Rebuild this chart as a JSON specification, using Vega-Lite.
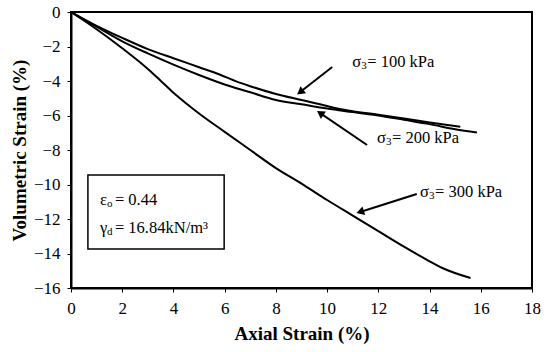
{
  "$schema": "https://vega.github.io/schema/vega-lite/v6.json",
  "width": 461,
  "height": 276,
  "autosize": "none",
  "padding": {"left": 71, "top": 12, "right": 15, "bottom": 64},
  "background": "white",
  "config": {
    "view": {"stroke": "black", "strokeWidth": 2},
    "font": "Liberation Serif",
    "axis": {"labelOverlap": false, "labelBound": false, "labelFlush": false},
    "axisY": {"labelOverlap": false, "tickCount": 9},
    "axisQuantitative": {"labelOverlap": false}
  },
  "datasets": {
    "curves": [
      {"series": "100 kPa", "x": 0, "y": 0},
      {"series": "100 kPa", "x": 1, "y": -0.8},
      {"series": "100 kPa", "x": 2, "y": -1.5},
      {"series": "100 kPa", "x": 3, "y": -2.15},
      {"series": "100 kPa", "x": 4, "y": -2.68},
      {"series": "100 kPa", "x": 5, "y": -3.2},
      {"series": "100 kPa", "x": 5.8, "y": -3.62},
      {"series": "100 kPa", "x": 6.5, "y": -4.05},
      {"series": "100 kPa", "x": 7, "y": -4.3},
      {"series": "100 kPa", "x": 8, "y": -4.75},
      {"series": "100 kPa", "x": 9, "y": -5.1},
      {"series": "100 kPa", "x": 10, "y": -5.45},
      {"series": "100 kPa", "x": 10.4, "y": -5.6},
      {"series": "100 kPa", "x": 11, "y": -5.75},
      {"series": "100 kPa", "x": 12, "y": -5.95},
      {"series": "100 kPa", "x": 13, "y": -6.17},
      {"series": "100 kPa", "x": 14, "y": -6.4},
      {"series": "100 kPa", "x": 15.2, "y": -6.65},
      {"series": "200 kPa", "x": 0, "y": 0},
      {"series": "200 kPa", "x": 1, "y": -0.85},
      {"series": "200 kPa", "x": 2, "y": -1.7},
      {"series": "200 kPa", "x": 3, "y": -2.4},
      {"series": "200 kPa", "x": 4, "y": -3.05},
      {"series": "200 kPa", "x": 5, "y": -3.65},
      {"series": "200 kPa", "x": 6, "y": -4.2},
      {"series": "200 kPa", "x": 7, "y": -4.65},
      {"series": "200 kPa", "x": 8, "y": -5.1},
      {"series": "200 kPa", "x": 9, "y": -5.35},
      {"series": "200 kPa", "x": 10, "y": -5.6},
      {"series": "200 kPa", "x": 11, "y": -5.8},
      {"series": "200 kPa", "x": 12, "y": -6.0},
      {"series": "200 kPa", "x": 13, "y": -6.25},
      {"series": "200 kPa", "x": 14, "y": -6.5},
      {"series": "200 kPa", "x": 15, "y": -6.8},
      {"series": "200 kPa", "x": 15.85, "y": -6.98},
      {"series": "300 kPa", "x": 0, "y": 0},
      {"series": "300 kPa", "x": 1, "y": -1.0},
      {"series": "300 kPa", "x": 2, "y": -2.1},
      {"series": "300 kPa", "x": 3, "y": -3.3},
      {"series": "300 kPa", "x": 3.5, "y": -3.98},
      {"series": "300 kPa", "x": 4, "y": -4.68},
      {"series": "300 kPa", "x": 4.5, "y": -5.3},
      {"series": "300 kPa", "x": 5, "y": -5.88},
      {"series": "300 kPa", "x": 6, "y": -6.95},
      {"series": "300 kPa", "x": 7, "y": -8.0},
      {"series": "300 kPa", "x": 8, "y": -9.05},
      {"series": "300 kPa", "x": 9, "y": -9.95},
      {"series": "300 kPa", "x": 10, "y": -10.9},
      {"series": "300 kPa", "x": 11, "y": -11.8},
      {"series": "300 kPa", "x": 12, "y": -12.7},
      {"series": "300 kPa", "x": 13, "y": -13.6},
      {"series": "300 kPa", "x": 14, "y": -14.45},
      {"series": "300 kPa", "x": 14.5, "y": -14.84},
      {"series": "300 kPa", "x": 15.6, "y": -15.42}
    ],
    "arrows": [
      {"series": "100 kPa", "x": 10.2, "y": -3.19, "x2": 8.95, "y2": -4.64},
      {"series": "200 kPa", "x": 11.56, "y": -7.71, "x2": 9.73, "y2": -5.86},
      {"series": "300 kPa", "x": 13.5, "y": -10.55, "x2": 11.29, "y2": -11.59}
    ],
    "labels": [
      {"series": "100 kPa", "x": 10.98, "y": -2.9, "sym": "σ", "sub": "3", "rest": "= 100 kPa"},
      {"series": "200 kPa", "x": 11.95, "y": -7.3, "sym": "σ", "sub": "3", "rest": "= 200 kPa"},
      {"series": "300 kPa", "x": 13.63, "y": -10.43, "sym": "σ", "sub": "3", "rest": "= 300 kPa"}
    ],
    "box": [
      {"x": 0.66, "x2": 5.98, "y": -9.45, "y2": -13.74}
    ],
    "boxtext": [
      {"x": 1.13, "y": -10.9, "sym": "ε", "sub": "o", "rest": "= 0.44"},
      {"x": 1.13, "y": -12.52, "sym": "γ", "sub": "d", "rest": "= 16.84kN/m³"}
    ]
  },
  "encoding": {
    "x": {"type": "quantitative", "scale": {"domain": [0, 18], "nice": false},
      "axis": {"title": "Axial Strain  (%)", "values": [0, 2, 4, 6, 8, 10, 12, 14, 16, 18], "grid": false, "domainColor": "black", "domainWidth": 2, "tickColor": "black", "tickSize": 4,
        "labelFont": "Liberation Serif", "labelFontSize": 17, "labelColor": "black", "labelOverlap": false, "labelPadding": 8,
        "titleFont": "Liberation Serif", "titleFontSize": 19, "titleFontWeight": "bold", "titleColor": "black", "titlePadding": 8}},
    "y": {"type": "quantitative", "scale": {"domain": [-16, 0], "nice": false},
      "axis": {"title": "Volumetric Strain (%)", "values": [-16, -14, -12, -10, -8, -6, -4, -2, 0], "grid": false, "domainColor": "black", "domainWidth": 2, "tickColor": "black", "tickSize": 4,
        "labelFont": "Liberation Serif", "labelFontSize": 17, "labelColor": "black", "labelOverlap": false, "labelPadding": 7,
        "titleFont": "Liberation Serif", "titleFontSize": 19, "titleFontWeight": "bold", "titleColor": "black", "titlePadding": 4}}
  },
  "layer": [
    {
      "data": {"name": "curves"},
      "mark": {"type": "line", "color": "black", "strokeWidth": 2, "interpolate": "monotone"},
      "encoding": {
        "x": {"field": "x", "type": "quantitative"},
        "y": {"field": "y", "type": "quantitative"},
        "detail": {"field": "series"}
      }
    },
    {
      "data": {"name": "arrows"},
      "mark": {"type": "rule", "color": "black", "strokeWidth": 2},
      "encoding": {
        "x": {"field": "x", "type": "quantitative"},
        "y": {"field": "y", "type": "quantitative"},
        "x2": {"field": "x2"},
        "y2": {"field": "y2"}
      }
    },
    {
      "data": {"name": "arrows"},
      "transform": [{"filter": "datum.series === '100 kPa'"}],
      "mark": {"type": "point", "shape": "triangle-up", "filled": true, "color": "black", "opacity": 1, "size": 80, "angle": 232},
      "encoding": {"x": {"field": "x2", "type": "quantitative"}, "y": {"field": "y2", "type": "quantitative"}}
    },
    {
      "data": {"name": "arrows"},
      "transform": [{"filter": "datum.series === '200 kPa'"}],
      "mark": {"type": "point", "shape": "triangle-up", "filled": true, "color": "black", "opacity": 1, "size": 80, "angle": 304},
      "encoding": {"x": {"field": "x2", "type": "quantitative"}, "y": {"field": "y2", "type": "quantitative"}}
    },
    {
      "data": {"name": "arrows"},
      "transform": [{"filter": "datum.series === '300 kPa'"}],
      "mark": {"type": "point", "shape": "triangle-up", "filled": true, "color": "black", "opacity": 1, "size": 80, "angle": 252},
      "encoding": {"x": {"field": "x2", "type": "quantitative"}, "y": {"field": "y2", "type": "quantitative"}}
    },
    {
      "data": {"name": "labels"},
      "mark": {"type": "text", "align": "left", "baseline": "middle", "font": "Liberation Serif", "fontSize": 16.5, "color": "black"},
      "encoding": {"x": {"field": "x", "type": "quantitative"}, "y": {"field": "y", "type": "quantitative"}, "text": {"field": "sym"}}
    },
    {
      "data": {"name": "labels"},
      "mark": {"type": "text", "align": "left", "baseline": "middle", "font": "Liberation Serif", "fontSize": 11, "dx": 9, "dy": 4, "color": "black"},
      "encoding": {"x": {"field": "x", "type": "quantitative"}, "y": {"field": "y", "type": "quantitative"}, "text": {"field": "sub"}}
    },
    {
      "data": {"name": "labels"},
      "mark": {"type": "text", "align": "left", "baseline": "middle", "font": "Liberation Serif", "fontSize": 16.5, "dx": 15, "color": "black"},
      "encoding": {"x": {"field": "x", "type": "quantitative"}, "y": {"field": "y", "type": "quantitative"}, "text": {"field": "rest"}}
    },
    {
      "data": {"name": "box"},
      "mark": {"type": "rect", "fill": "white", "stroke": "black", "strokeWidth": 1.5},
      "encoding": {
        "x": {"field": "x", "type": "quantitative"},
        "x2": {"field": "x2"},
        "y": {"field": "y", "type": "quantitative"},
        "y2": {"field": "y2"}
      }
    },
    {
      "data": {"name": "boxtext"},
      "mark": {"type": "text", "align": "left", "baseline": "middle", "font": "Liberation Serif", "fontSize": 16.5, "color": "black"},
      "encoding": {"x": {"field": "x", "type": "quantitative"}, "y": {"field": "y", "type": "quantitative"}, "text": {"field": "sym"}}
    },
    {
      "data": {"name": "boxtext"},
      "mark": {"type": "text", "align": "left", "baseline": "middle", "font": "Liberation Serif", "fontSize": 11, "dx": 7, "dy": 4, "color": "black"},
      "encoding": {"x": {"field": "x", "type": "quantitative"}, "y": {"field": "y", "type": "quantitative"}, "text": {"field": "sub"}}
    },
    {
      "data": {"name": "boxtext"},
      "mark": {"type": "text", "align": "left", "baseline": "middle", "font": "Liberation Serif", "fontSize": 16.5, "dx": 15, "color": "black"},
      "encoding": {"x": {"field": "x", "type": "quantitative"}, "y": {"field": "y", "type": "quantitative"}, "text": {"field": "rest"}}
    }
  ]
}
